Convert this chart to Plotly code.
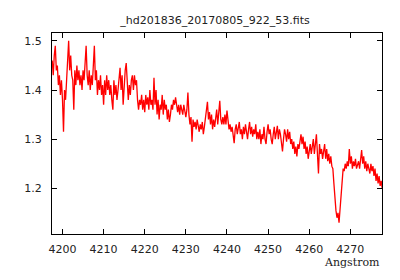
import numpy as np
import plotly.graph_objects as go

title_text = "_hd201836_20170805_922_53.fits"
x_label = "Angstrom"

# wavelength grid (as from FITS header: start + step)
wave_start = 4197.5
wave_step = 0.25

flux = [
    # 4197.5 - 4202.25
    1.46, 1.43, 1.47, 1.49, 1.44, 1.45, 1.41, 1.43, 1.39, 1.42,
    1.38, 1.315, 1.40, 1.38, 1.42, 1.45, 1.50, 1.44, 1.47, 1.43,
    # 4202.5 - 4207.25
    1.42, 1.36, 1.44, 1.41, 1.45, 1.42, 1.44, 1.41, 1.43, 1.40,
    1.44, 1.42, 1.46, 1.49, 1.43, 1.41, 1.44, 1.40, 1.43, 1.41,
    # 4207.5 - 4212.25
    1.45, 1.49, 1.42, 1.44, 1.39, 1.42, 1.40, 1.43, 1.39, 1.41,
    1.37, 1.42, 1.39, 1.43, 1.40, 1.42, 1.39, 1.41, 1.38, 1.36,
    # 4212.5 - 4217.25
    1.42, 1.39, 1.41, 1.38, 1.40, 1.42, 1.445, 1.40, 1.43, 1.37,
    1.41, 1.44, 1.455, 1.40, 1.38, 1.41, 1.39, 1.42, 1.43, 1.40,
    # 4217.5 - 4222.25
    1.43, 1.41, 1.42, 1.38, 1.36, 1.38, 1.37, 1.39, 1.36, 1.38,
    1.355, 1.39, 1.37, 1.385, 1.36, 1.40, 1.37, 1.38, 1.36, 1.425,
    # 4222.5 - 4227.25
    1.37, 1.40, 1.35, 1.38, 1.34, 1.37, 1.36, 1.39, 1.35, 1.38,
    1.36, 1.37, 1.34, 1.36, 1.335, 1.35, 1.37, 1.36, 1.38, 1.37,
    # 4227.5 - 4232.25
    1.385, 1.37, 1.355, 1.37, 1.35, 1.37, 1.36, 1.35, 1.37, 1.36,
    1.345, 1.36, 1.395, 1.35, 1.33, 1.345, 1.295, 1.34, 1.325, 1.335,
    # 4232.5 - 4237.25
    1.32, 1.34, 1.325, 1.315, 1.33, 1.32, 1.335, 1.31, 1.325, 1.34,
    1.35, 1.376, 1.34, 1.355, 1.33, 1.35, 1.32, 1.34, 1.325, 1.345,
    # 4237.5 - 4242.25
    1.36, 1.33, 1.355, 1.378, 1.34, 1.33, 1.345, 1.33, 1.35, 1.33,
    1.358, 1.33, 1.32, 1.33, 1.315, 1.325, 1.31, 1.292, 1.32, 1.33,
    # 4242.5 - 4247.25
    1.31, 1.325, 1.335, 1.31, 1.32, 1.30, 1.325, 1.31, 1.33, 1.315,
    1.30, 1.32, 1.335, 1.31, 1.325, 1.305, 1.32, 1.31, 1.33, 1.30,
    # 4247.5 - 4252.25
    1.315, 1.30, 1.32, 1.29, 1.31, 1.30, 1.325, 1.30, 1.29, 1.315,
    1.33, 1.31, 1.32, 1.30, 1.29, 1.31, 1.325, 1.30, 1.315, 1.327,
    # 4252.5 - 4257.25
    1.30, 1.32, 1.31, 1.295, 1.275, 1.30, 1.32, 1.31, 1.295, 1.32,
    1.30, 1.315, 1.29, 1.30, 1.28, 1.295, 1.27, 1.285, 1.265, 1.29,
    # 4257.5 - 4262.25
    1.28, 1.295, 1.31, 1.29, 1.305, 1.28, 1.295, 1.27, 1.285, 1.26,
    1.28, 1.29, 1.27, 1.285, 1.30, 1.27, 1.29, 1.31, 1.27, 1.23,
    # 4262.5 - 4267.25
    1.29, 1.27, 1.28, 1.26, 1.275, 1.29, 1.26, 1.28, 1.255, 1.27,
    1.25, 1.265, 1.245, 1.24, 1.21, 1.17, 1.155, 1.14, 1.15, 1.13,
    # 4267.5 - 4272.25
    1.16, 1.20, 1.22, 1.24, 1.235, 1.25, 1.24, 1.255, 1.245, 1.28,
    1.25, 1.265, 1.24, 1.255, 1.245, 1.26, 1.24, 1.25, 1.255, 1.24,
    # 4272.5 - 4277.75
    1.26, 1.278, 1.25, 1.265, 1.24, 1.255, 1.235, 1.25, 1.24, 1.23,
    1.25, 1.235, 1.245, 1.225, 1.24, 1.215, 1.23, 1.21, 1.225, 1.205,
    1.215, 1.20,
]

x_ticks = [4200, 4210, 4220, 4230, 4240, 4250, 4260, 4270]
y_ticks = [1.2, 1.3, 1.4, 1.5]

wave = wave_start + wave_step * np.arange(len(flux))

fig = go.Figure()
fig.add_trace(go.Scatter(x=wave, y=flux, mode="lines",
                         line=dict(color="#ff0000", width=1.3), showlegend=False))

axis_common = dict(showline=True, linecolor="black", linewidth=1, mirror="ticks",
                   ticks="inside", ticklen=5, tickcolor="black", showgrid=False,
                   zeroline=False, tickfont=dict(family="DejaVu Sans", size=11, color="#222"))

fig.update_layout(
    width=400, height=280,
    margin=dict(l=52, r=18, t=33, b=46),
    paper_bgcolor="white", plot_bgcolor="white",
    title=dict(text=title_text, x=0.5375, xanchor="center", y=1 - 20 / 280, yanchor="middle",
               font=dict(family="DejaVu Sans", size=11, color="#222")),
    xaxis=dict(range=[4197.45, 4277.7], tickvals=x_ticks, ticklabelstandoff=5, **axis_common),
    yaxis=dict(range=[1.107, 1.516], tickvals=y_ticks, ticklabelstandoff=7, **axis_common),
    annotations=[dict(text=x_label, xref="paper", yref="paper", x=1.0, y=-28 / 201,
                      xanchor="right", yanchor="middle", showarrow=False,
                      font=dict(family="DejaVu Serif", size=11, color="#222"))],
)

fig.write_html("out.html")
